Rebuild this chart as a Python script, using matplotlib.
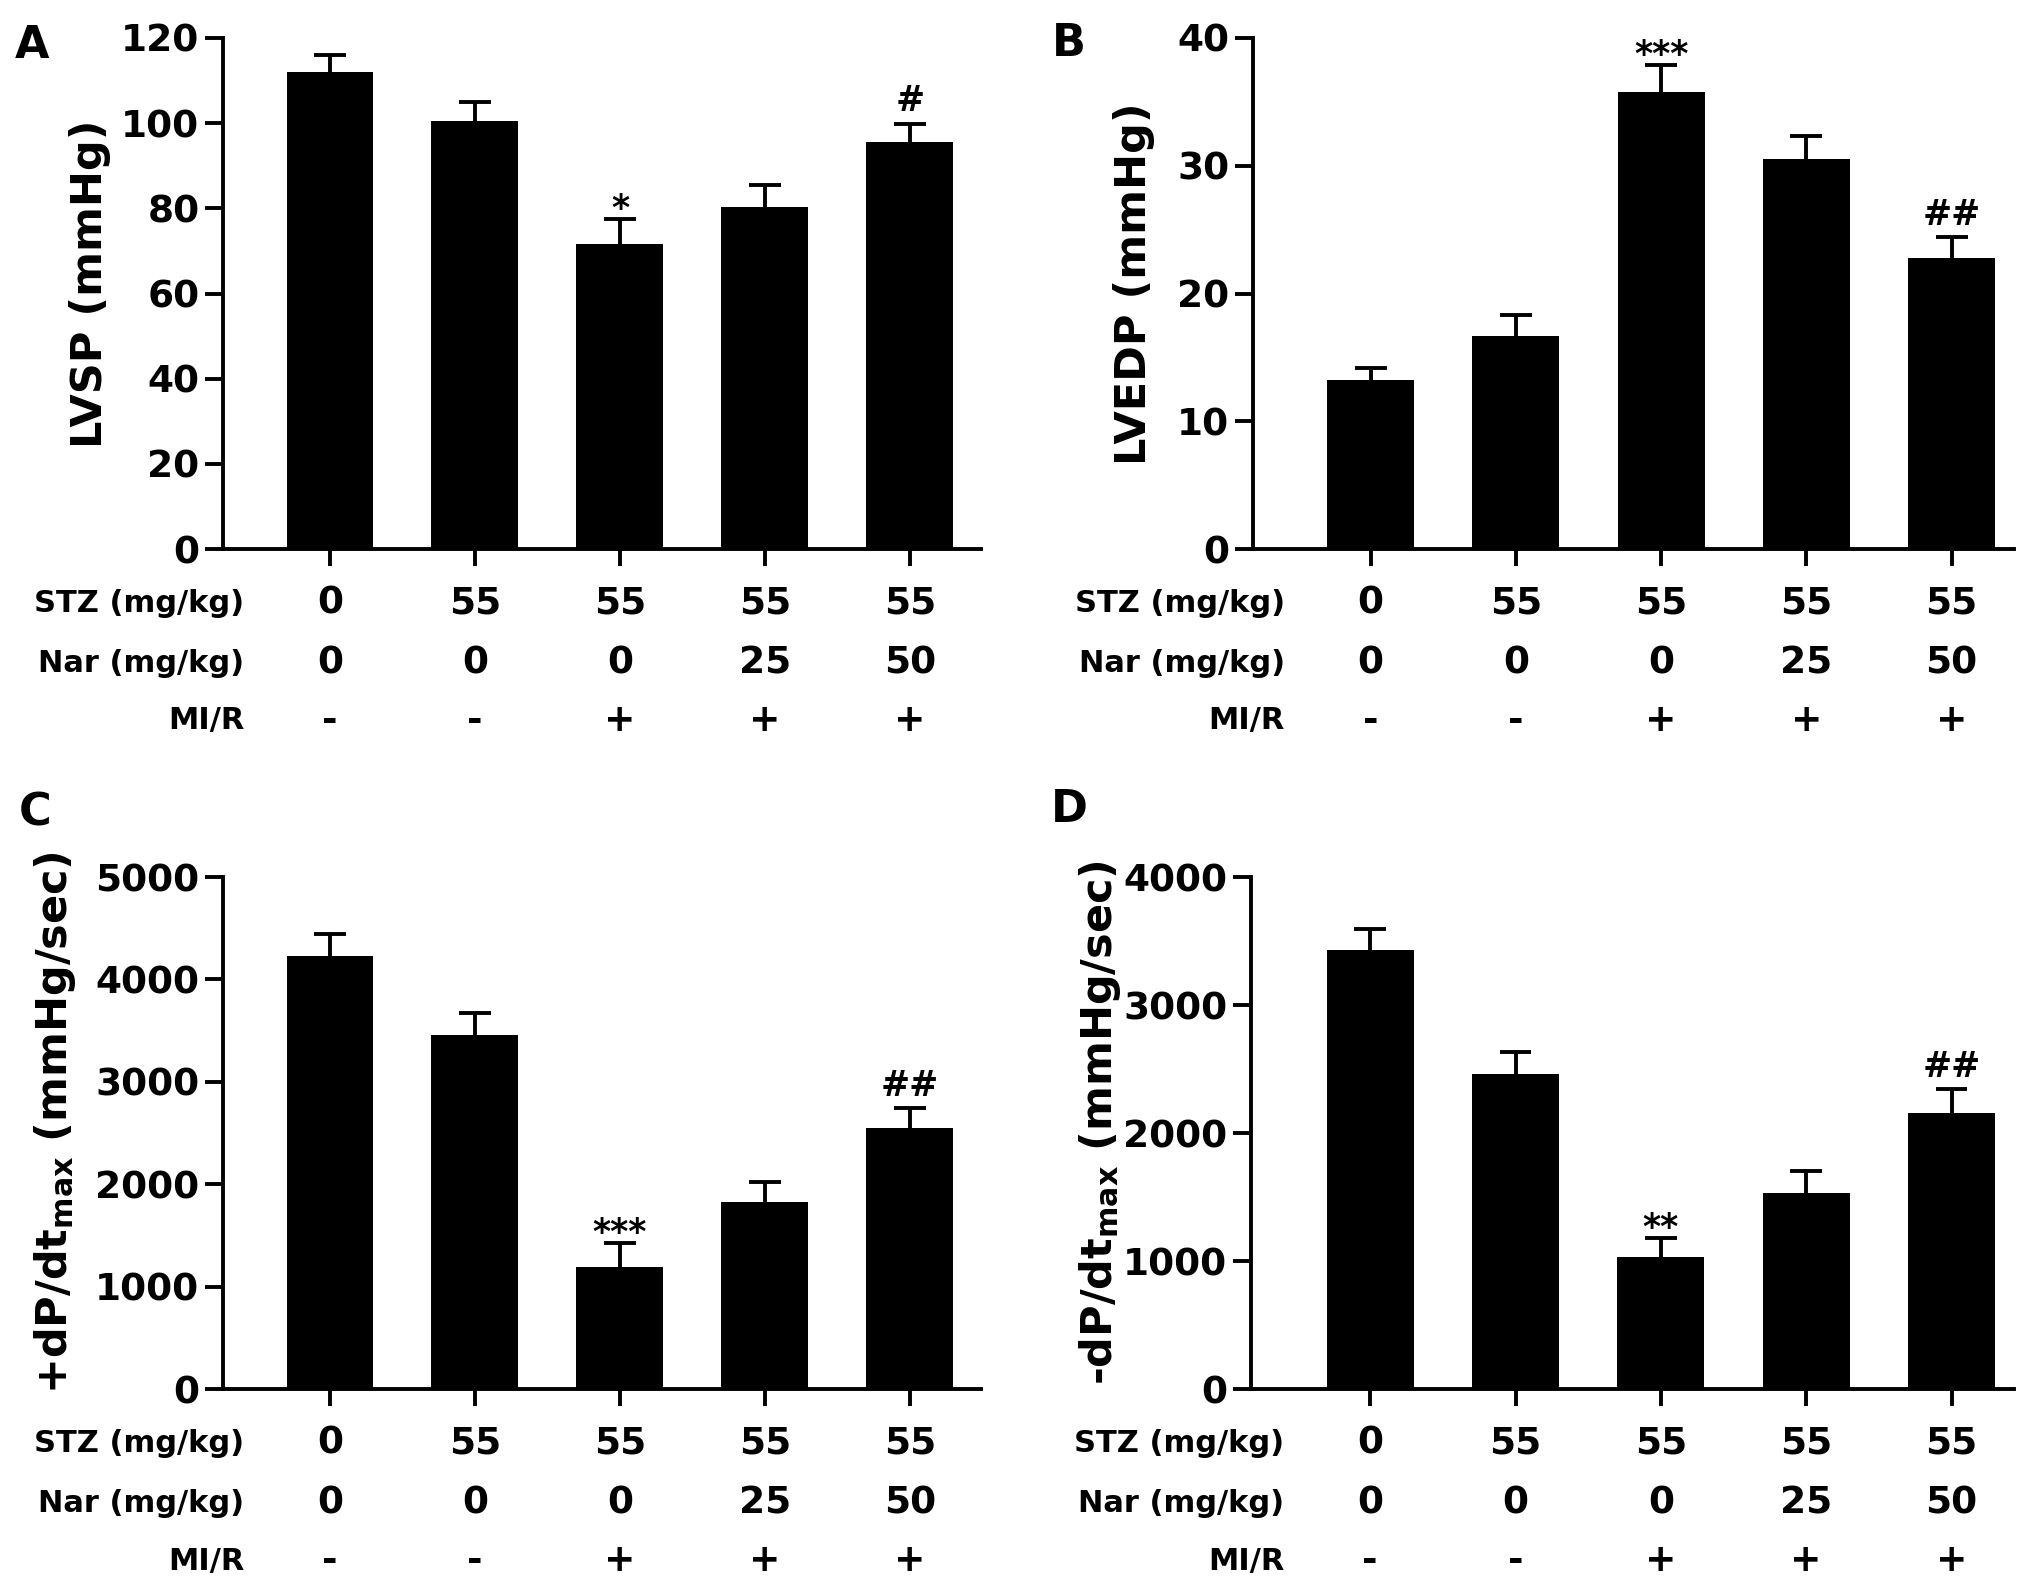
import numpy as np
import matplotlib
matplotlib.use("Agg")
import matplotlib.pyplot as plt
from matplotlib.transforms import blended_transform_factory

plt.rcParams['font.family'] = ['DejaVu Sans']
plt.rcParams['font.weight'] = 'bold'
plt.rcParams['mathtext.default'] = 'bf'

# group conditions (table below each panel)
stz = ["0", "55", "55", "55", "55"]
nar = ["0", "0", "0", "25", "50"]
mir = ["-", "-", "+", "+", "+"]
row_names = ["STZ (mg/kg)", "Nar (mg/kg)", "MI/R"]

# panel values (mean, upper error = SEM)
lvsp = [112, 100.4, 71.6, 80.4, 95.6]
lvsp_err = [4.1, 4.5, 6.0, 5.1, 4.3]
lvsp_sig = ["", "", "*", "", "#"]

lvedp = [13.2, 16.7, 35.8, 30.5, 22.8]
lvedp_err = [1.0, 1.6, 2.1, 1.8, 1.6]
lvedp_sig = ["", "", "***", "", "##"]

dpdt_pos = [4230, 3460, 1195, 1825, 2550]
dpdt_pos_err = [210, 210, 230, 200, 190]
dpdt_pos_sig = ["", "", "***", "", "##"]

dpdt_neg = [3430, 2460, 1030, 1530, 2160]
dpdt_neg_err = [165, 170, 150, 170, 180]
dpdt_neg_sig = ["", "", "**", "", "##"]

panels = [
    ("A", "LVSP (mmHg)", lvsp, lvsp_err, lvsp_sig, 120, 20,
     [223/2031, 1-549/1584, 758/2031, 511/1584], (-0.738, 4.49), -0.175),
    ("B", "LVEDP (mmHg)", lvedp, lvedp_err, lvedp_sig, 40, 10,
     [1253/2031, 1-549/1584, 761/2031, 511/1584], (-0.81, 4.43), -0.157),
    ("C", "+dP/dt$_{max}$ (mmHg/sec)", dpdt_pos, dpdt_pos_err, dpdt_pos_sig, 5000, 1000,
     [223/2031, 1-1389/1584, 758/2031, 512/1584], (-0.738, 4.49), -0.222),
    ("D", "-dP/dt$_{max}$ (mmHg/sec)", dpdt_neg, dpdt_neg_err, dpdt_neg_sig, 4000, 1000,
     [1251/2031, 1-1389/1584, 763/2031, 512/1584], (-0.82, 4.43), -0.198),
]

fig = plt.figure(figsize=(20.31, 15.84), dpi=100)
x = np.arange(5)
lw = 2.8
cap = 0.11

for letter, ylab, vals, errs, sig, ymax, ystep, rect, xl, labx in panels:
    ax = fig.add_axes(rect)
    ax.bar(x, vals, width=0.6, color="black", zorder=2)
    tops = np.array(vals) + np.array(errs)
    # upper error bars only
    ax.vlines(x, vals, tops, color="black", lw=lw, zorder=1)
    ax.hlines(tops, x - cap, x + cap, color="black", lw=lw, zorder=1)
    ax.set_xlim(*xl)
    ax.set_ylim(0, ymax)
    ax.set_yticks(np.arange(0, ymax + ystep / 2, ystep))
    ax.set_xticks(x)
    ax.set_xticklabels([])
    for s in ["top", "right"]:
        ax.spines[s].set_visible(False)
    for s in ["left", "bottom"]:
        ax.spines[s].set_linewidth(lw)
    ax.tick_params(axis="y", length=13, width=lw, labelsize=27, pad=4)
    ax.tick_params(axis="x", length=12, width=lw)
    for t in ax.get_yticklabels():
        t.set_fontweight("bold")
    ax.set_ylabel(ylab, fontsize=31, fontweight="bold", va="center")
    ax.yaxis.set_label_coords(labx, 0.52)

    # significance marks above error bars
    for xi, t, s in zip(x, tops, sig):
        if not s:
            continue
        off = 0 if "*" in s else 9
        ax.annotate(s, (xi, t), xytext=(0, off), textcoords="offset points",
                    ha="center", va="baseline", fontsize=25, fontweight="bold")

    # condition table
    tr = blended_transform_factory(ax.transData, ax.transAxes)
    for ry, name, row in zip([-0.107, -0.224, -0.336], row_names, [stz, nar, mir]):
        ax.text(-0.59, ry, name, transform=tr, ha="right", va="center",
                fontsize=22, fontweight="bold")
        for xi, lab in zip(x, row):
            ax.text(xi, ry, lab, transform=tr, ha="center", va="center",
                    fontsize=27, fontweight="bold")

fig.text(32/2031, 1-46/1584, "A", fontsize=32, fontweight="bold", ha="center", va="center")
fig.text(1069/2031, 1-44/1584, "B", fontsize=32, fontweight="bold", ha="center", va="center")
fig.text(35/2031, 1-813/1584, "C", fontsize=32, fontweight="bold", ha="center", va="center")
fig.text(1069/2031, 1-810/1584, "D", fontsize=32, fontweight="bold", ha="center", va="center")

fig.savefig("out.png", dpi=100)
